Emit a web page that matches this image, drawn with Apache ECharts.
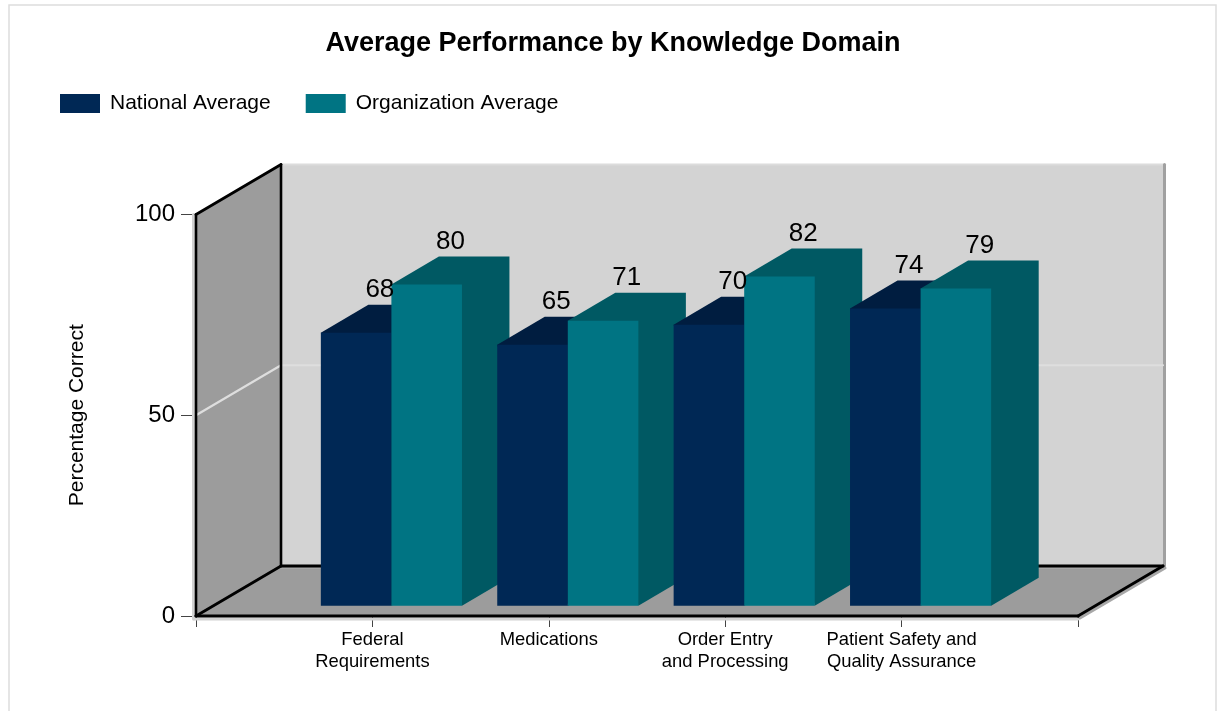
<!DOCTYPE html>
<html>
<head>
<meta charset="utf-8">
<title>Average Performance by Knowledge Domain</title>
<script src="https://cdn.jsdelivr.net/npm/echarts@6/dist/echarts.min.js"></script>
<style>
  html, body { margin: 0; padding: 0; background: #fff; }
  #chart { width: 1220px; height: 711px; }
</style>
</head>
<body>
<div id="chart"></div>
<script>
'use strict';
var categories = ['', 'Federal\nRequirements', 'Medications', 'Order Entry\nand Processing', 'Patient Safety and\nQuality Assurance', ''];
var nationalAverage = [68, 65, 70, 74];
var organizationAverage = [80, 71, 82, 79];
var yTicks = [0, 50, 100];

var FONT = '"Liberation Sans", Arial, sans-serif';
// whole floor depth, and the part of it one bar takes up
var WALL_DX = 85, WALL_DY = 50;
var BAR_DX = 47.5, BAR_DY = 28;
var BAR_INSET_X = 19, BAR_INSET_Y = 10.3;
var barColors = [
  { front: '#002855', top: '#001D40' },
  { front: '#007483', top: '#005963' }
];

function toRows(values) {
  return values.map(function (v, i) {
    return [i + 1, v];
  });
}

function line(p1, p2, color, width, z2) {
  return {
    type: 'line',
    z2: z2,
    shape: { x1: p1[0], y1: p1[1], x2: p2[0], y2: p2[1] },
    style: { stroke: color, lineWidth: width, lineCap: 'round' }
  };
}

function poly(points, color, z2) {
  return { type: 'polygon', z2: z2, shape: { points: points }, style: { fill: color } };
}

function renderWalls(params, api) {
  var last = categories.length - 1;
  var bl = api.coord([0, 0]), br = api.coord([last, 0]), tl = api.coord([0, 100]);
  var back = function (p) {
    return [p[0] + WALL_DX, p[1] - WALL_DY];
  };
  var bbl = back(bl), bbr = back(br), btl = back(tl);
  var btr = [bbr[0], btl[1]];
  var children = [
    line([tl[0] - 2.5, tl[1]], [bl[0] - 2.5, bl[1] + 3], '#D2D2D2', 3, 0),
    line([bl[0] - 2, bl[1] + 3], [br[0], br[1] + 3], '#D2D2D2', 3, 0),
    line([br[0] + 2, br[1] + 2], [bbr[0] + 2, bbr[1] + 2], '#A8A8A8', 3, 0),
    poly([btl, btr, bbr, bbl], '#D3D3D3', 1),
    poly([tl, btl, bbl, bl], '#9C9C9C', 1),
    poly([bl, bbl, bbr, br], '#9C9C9C', 1),
    line(btl, btr, '#DCDCDC', 2, 2),
    line([btr[0] + 1.5, btr[1]], [bbr[0] + 1.5, bbr[1]], '#A0A0A0', 3, 2),
    line([bbl[0], bbl[1] + 2], [bbr[0], bbr[1] + 2], '#A8A8A8', 2, 2)
  ];
  yTicks.forEach(function (t) {
    if (t === 0 || t === 100) {
      return;
    }
    var p = api.coord([0, t]), q = back(p);
    children.push(line(p, q, '#DEDEDE', 2.2, 3));
    children.push(line(q, [bbr[0], q[1]], '#DEDEDE', 2.2, 3));
  });
  children.push(
    line(btl, bbl, '#000', 2.6, 4),
    line(bbl, bbr, '#000', 2.8, 4),
    line(tl, btl, '#000', 2.8, 4),
    line(tl, bl, '#000', 2.6, 4),
    line(bl, bbl, '#000', 2.8, 4),
    line(bl, br, '#000', 3, 4),
    line(br, bbr, '#000', 3, 4)
  );
  return { type: 'group', children: children };
}

function makeBarRenderer(seriesIdx) {
  return function (params, api) {
    var cat = api.value(0);
    var val = api.value(1);
    var w = api.size([1, 0])[0] * 0.4;
    var base = api.coord([cat, 0]);
    var top = api.coord([cat, val]);
    // bars stand in the middle of the floor, not on the front edge
    var x0 = base[0] + BAR_INSET_X - w + seriesIdx * w;
    var x1 = x0 + w;
    var y0 = base[1] - BAR_INSET_Y;
    var y1 = top[1] - BAR_INSET_Y;
    var c = barColors[seriesIdx];
    var z = 10 + cat * 10 + seriesIdx * 3;
    return {
      type: 'group',
      children: [
        // top and side share a colour, one outline avoids a seam between them
        poly([[x0, y1], [x0 + BAR_DX, y1 - BAR_DY], [x1 + BAR_DX, y1 - BAR_DY], [x1 + BAR_DX, y0 - BAR_DY], [x1, y0]], c.top, z),
        poly([[x0, y1], [x1, y1], [x1, y0], [x0, y0]], c.front, z + 2),
        {
          type: 'text',
          z2: 500,
          style: {
            text: String(val),
            x: x0 + w / 2 + BAR_DX / 2,
            y: y1 - 43,
            align: 'center',
            verticalAlign: 'middle',
            fill: '#000',
            font: '26px ' + FONT
          }
        }
      ]
    };
  };
}

var chart = echarts.init(document.getElementById('chart'), null, { renderer: 'canvas' });
chart.setOption({
  animation: false,
  backgroundColor: '#fff',
  title: {
    text: 'Average Performance by Knowledge Domain',
    left: 608,
    top: 25,
    textAlign: 'center',
    textStyle: { color: '#000', fontFamily: FONT, fontWeight: 'bold', fontSize: 27 }
  },
  legend: {
    left: 55,
    top: 88,
    icon: 'rect',
    itemWidth: 40,
    itemHeight: 19,
    itemGap: 35,
    data: ['National Average', 'Organization Average'],
    textStyle: { color: '#000', fontFamily: FONT, fontSize: 21, padding: [0, 0, 0, 5] }
  },
  grid: { left: 196, right: 142, top: 214.5, bottom: 95 },
  graphic: [{
    type: 'rect',
    silent: true,
    z: -1,
    shape: { x: 9, y: 5, width: 1207, height: 720 },
    style: { fill: '#fff', stroke: '#DDDDDD', lineWidth: 1.5 }
  }],
  xAxis: {
    type: 'category',
    data: categories,
    boundaryGap: false,
    axisLine: { show: false },
    axisTick: { show: true, length: 11, alignWithLabel: true, lineStyle: { color: '#444', width: 1 } },
    axisLabel: {
      interval: 0,
      margin: 13,
      color: '#000',
      fontFamily: FONT,
      fontSize: 18.4,
      lineHeight: 22,
      showMinLabel: true,
      showMaxLabel: true
    },
    splitLine: { show: false }
  },
  yAxis: {
    type: 'value',
    min: 0,
    max: 100,
    interval: 50,
    name: 'Percentage Correct',
    nameLocation: 'middle',
    nameGap: 108,
    nameRotate: 90,
    nameTextStyle: { color: '#000', fontFamily: FONT, fontSize: 21 },
    axisLine: { show: false },
    axisTick: { show: true, length: 15, lineStyle: { color: '#444', width: 1 } },
    axisLabel: { margin: 21, color: '#000', fontFamily: FONT, fontSize: 24 },
    splitLine: { show: false }
  },
  series: [
    {
      type: 'custom',
      name: 'walls',
      silent: true,
      coordinateSystem: 'cartesian2d',
      z: 1,
      clip: false,
      renderItem: renderWalls,
      data: [[0, 0]]
    },
    {
      type: 'custom',
      name: 'National Average',
      coordinateSystem: 'cartesian2d',
      z: 3,
      clip: false,
      itemStyle: { color: barColors[0].front },
      renderItem: makeBarRenderer(0),
      data: toRows(nationalAverage)
    },
    {
      type: 'custom',
      name: 'Organization Average',
      coordinateSystem: 'cartesian2d',
      z: 3,
      clip: false,
      itemStyle: { color: barColors[1].front },
      renderItem: makeBarRenderer(1),
      data: toRows(organizationAverage)
    }
  ]
});
</script>
</body>
</html>
